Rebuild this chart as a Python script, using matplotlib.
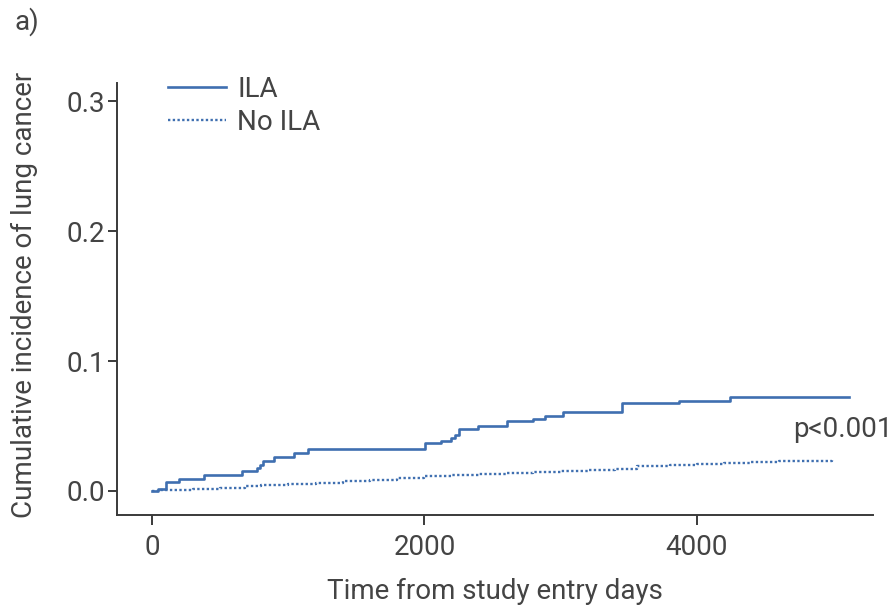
import matplotlib
matplotlib.use("Agg")
import matplotlib.pyplot as plt

plt.rcParams['font.family'] = ['Roboto', 'DejaVu Sans']

# ILA cumulative incidence (step function)
ila_t = [0, 44, 103, 198, 382, 658, 768, 793, 816, 897, 1042, 1147, 2004, 2119,
         2192, 2224, 2256, 2396, 2608, 2794, 2884, 3019, 3447, 3870, 4242, 5118]
ila_y = [0.0, 0.0018, 0.007, 0.009, 0.0123, 0.0154, 0.0175, 0.020, 0.0233, 0.026,
         0.029, 0.032, 0.0367, 0.0387, 0.0405, 0.043, 0.0474, 0.050, 0.0538, 0.0556,
         0.0577, 0.061, 0.0675, 0.0692, 0.072, 0.072]

# No ILA cumulative incidence
noila_t = [0, 60, 150, 300, 500, 680, 800, 1000, 1200, 1400, 1600, 1800, 2000, 2200,
           2400, 2600, 2800, 3000, 3200, 3400, 3560, 3800, 4000, 4200, 4400, 4600,
           4800, 4990]
noila_y = [0.0, 0.0005, 0.001, 0.0015, 0.002, 0.004, 0.0045, 0.0055, 0.0065, 0.0075,
           0.0088, 0.0100, 0.0112, 0.0122, 0.013, 0.0139, 0.0147, 0.0155, 0.0163,
           0.0172, 0.0195, 0.0203, 0.021, 0.0215, 0.0222, 0.0228, 0.0234, 0.0238]

x_ticks = [0, 2000, 4000]
y_ticks = [0.0, 0.1, 0.2, 0.3]
y_ticklabels = ["0.0", "0.1", "0.2", "0.3"]

blue = "#3f6fb0"
axc = "#3a3a3a"
txtc = "#444444"
fs = 20

fig = plt.figure(figsize=(8.93, 6.10), dpi=100)
ax = fig.add_axes([117/893, 1-515/610, (873-117)/893, (515-83)/610])

ax.step(ila_t, ila_y, where='post', color=blue, lw=1.9, label="ILA")
ax.step(noila_t, noila_y, where='post', color=blue, lw=1.7,
        linestyle=(0, (1.0, 1.0)), label="No ILA")

ax.set_xlim(-257, 5292)
ax.set_ylim(-0.0185, 0.314)
ax.set_xticks(x_ticks)
ax.set_yticks(y_ticks)
ax.set_yticklabels(y_ticklabels)

for s in ['top', 'right']:
    ax.spines[s].set_visible(False)
for s in ['left', 'bottom']:
    ax.spines[s].set_color(axc)
    ax.spines[s].set_linewidth(1.4)

ax.tick_params(axis='both', colors=axc, labelcolor=txtc, labelsize=fs, width=1.4)
ax.tick_params(axis='y', length=6.5, pad=2)
ax.tick_params(axis='x', length=7, pad=7)

ax.set_xlabel("Time from study entry days", fontsize=fs, color=txtc, labelpad=12)
ax.set_ylabel("Cumulative incidence of lung cancer", fontsize=fs, color=txtc)
ax.yaxis.set_label_coords((38-117)/756, 0.509)

ax.text(4705, 0.047, "p<0.001", fontsize=fs, color=txtc, ha='left', va='center')

leg = ax.legend(loc='upper left', bbox_to_anchor=(168/893, 1-76/610),
                bbox_transform=fig.transFigure, frameon=False, fontsize=fs,
                handlelength=2.1, handletextpad=0.4, labelspacing=0.22,
                borderpad=0, borderaxespad=0)
for t in leg.get_texts():
    t.set_color(txtc)

fig.text(15/893, 1-22/610, "a)", fontsize=fs, color=txtc, ha='left', va='center')

fig.savefig("out.png", dpi=100)
